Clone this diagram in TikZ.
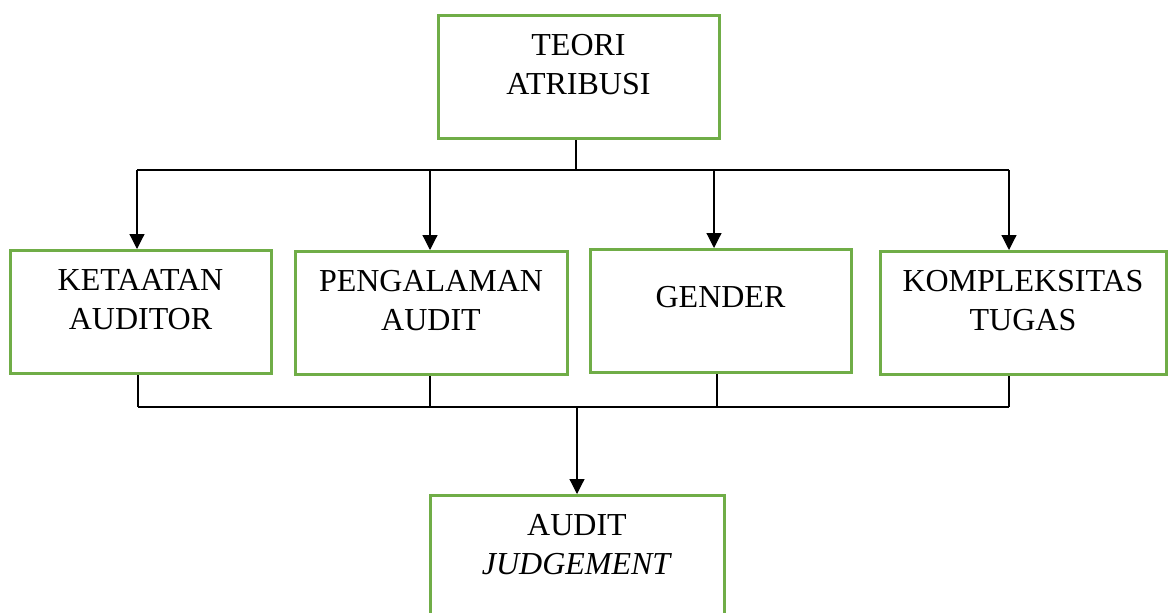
\documentclass[tikz,border=0pt]{standalone}
\usepackage{fontspec}
\setmainfont{Liberation Serif}
\usetikzlibrary{arrows.meta}
\definecolor{hijau}{HTML}{70AD47}
\begin{document}
\begin{tikzpicture}[x=1pt,y=-1pt,
    kotak/.style={draw=hijau,line width=3pt,rectangle,anchor=north,align=center,inner sep=0pt,
        text height=79pt,text depth=44pt,font=\fontsize{32}{39}\selectfont},
    garis/.style={line width=1.2pt},
    panah/.style={garis,-{Triangle[length=15pt,width=15pt]}}]
    \useasboundingbox (0,0) rectangle (1168,613);
    \node[kotak,minimum width=281pt] (teori) at (578.5,14) {TEORI\\ATRIBUSI};
    \node[kotak,minimum width=261pt] (ketaatan) at (140.5,249) {KETAATAN\\AUDITOR};
    \node[kotak,minimum width=272pt] (pengalaman) at (431,250) {PENGALAMAN\\AUDIT};
    \node[kotak,minimum width=261pt,text height=58pt,text depth=65pt] (gender) at (720.5,248) {GENDER};
    \node[kotak,minimum width=286pt] (kompleksitas) at (1023,250) {KOMPLEKSITAS\\TUGAS};
    \node[kotak,minimum width=294pt] (judgement) at (577,494) {AUDIT\\\textit{JUDGEMENT}};
    \coordinate (atas) at (576,170);
    \coordinate (bawah) at (577,407);
    % dari teori ke empat variabel
    \draw[garis] (teori.south -| atas) -- (atas);
    \draw[garis] (atas -| 137,0) -- (atas -| 1009,0);
    \foreach \n/\x in {ketaatan/137,pengalaman/430,gender/714,kompleksitas/1009}
        \draw[panah] (atas -| \x,0) -- (\n.north -| \x,0);
    % dari variabel ke audit judgement
    \foreach \n/\x in {ketaatan/138,pengalaman/430,gender/717,kompleksitas/1009}
        \draw[garis] (\n.south -| \x,0) -- (bawah -| \x,0);
    \draw[garis] (bawah -| 138,0) -- (bawah -| 1009,0);
    \draw[panah] (bawah) -- (judgement.north);
\end{tikzpicture}
\end{document}
